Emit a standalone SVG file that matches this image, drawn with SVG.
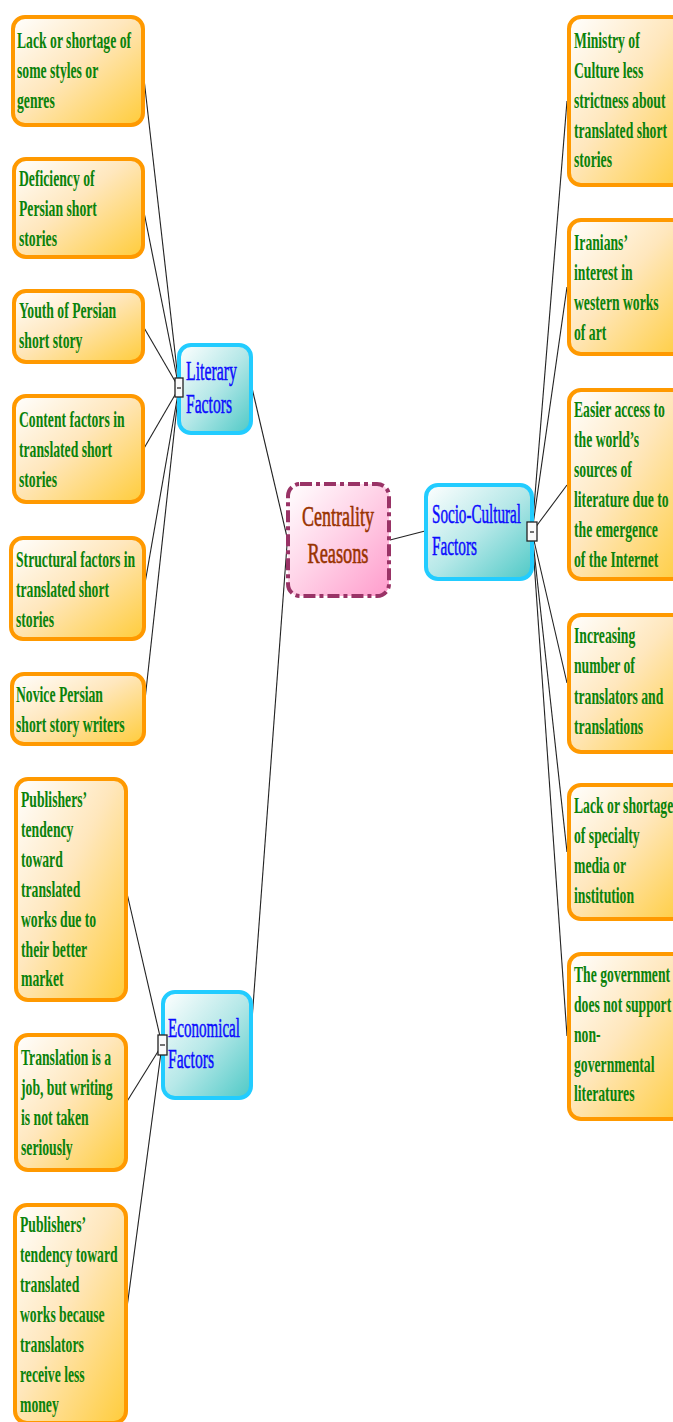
<svg xmlns="http://www.w3.org/2000/svg" width="673" height="1422" viewBox="0 0 673 1422">
<defs>
<linearGradient id="gOr" x1="0" y1="0" x2="1" y2="1">
<stop offset="0" stop-color="#ffffff"/>
<stop offset="0.45" stop-color="#ffe7bd"/>
<stop offset="1" stop-color="#ffcc3a"/>
</linearGradient>
<linearGradient id="gBl" x1="0" y1="0" x2="1" y2="1">
<stop offset="0" stop-color="#ffffff"/>
<stop offset="0.5" stop-color="#b6e8e8"/>
<stop offset="1" stop-color="#4ec9c6"/>
</linearGradient>
<linearGradient id="gPk" x1="0" y1="0" x2="1" y2="1">
<stop offset="0" stop-color="#ffffff"/>
<stop offset="0.5" stop-color="#ffd0e6"/>
<stop offset="1" stop-color="#ff9ccc"/>
</linearGradient>
</defs>
<style>
.leaf{fill:url(#gOr);stroke:#ff9900;stroke-width:4}
.mid{fill:url(#gBl);stroke:#22ccff;stroke-width:4}
.ctr{fill:url(#gPk);stroke:#993366;stroke-width:4;stroke-dasharray:12 4 4 4}
.lt{font-family:"Liberation Serif","Times New Roman",serif;font-weight:bold;font-size:23px;fill:#0a820a}
.bt{font-family:"Liberation Serif","Times New Roman",serif;font-size:28px;fill:#0c0cff;stroke:#0c0cff;stroke-width:0.5}
.ct{font-family:"Liberation Serif","Times New Roman",serif;font-size:30px;fill:#993300;stroke:#993300;stroke-width:0.6}
.cn{fill:none;stroke:#222;stroke-width:1.1}
.mk{fill:#fafafa;stroke:#222;stroke-width:1.3}
.mm{stroke:#444;stroke-width:1.5}
</style>
<g id="connectors">
<line class="cn" x1="287" y1="537" x2="252" y2="388"/>
<line class="cn" x1="287" y1="545" x2="250" y2="1047"/>
<line class="cn" x1="390" y1="540" x2="425" y2="531"/>
<line class="cn" x1="179" y1="388" x2="143" y2="70"/>
<line class="cn" x1="179" y1="388" x2="143" y2="207"/>
<line class="cn" x1="179" y1="388" x2="143" y2="326"/>
<line class="cn" x1="179" y1="388" x2="143" y2="450"/>
<line class="cn" x1="179" y1="388" x2="144" y2="589"/>
<line class="cn" x1="179" y1="388" x2="144" y2="709"/>
<line class="cn" x1="532" y1="532" x2="567" y2="101"/>
<line class="cn" x1="532" y1="532" x2="567" y2="287"/>
<line class="cn" x1="532" y1="532" x2="567" y2="485"/>
<line class="cn" x1="532" y1="532" x2="567" y2="683"/>
<line class="cn" x1="532" y1="532" x2="567" y2="852"/>
<line class="cn" x1="532" y1="532" x2="567" y2="1036"/>
<line class="cn" x1="162" y1="1045" x2="126" y2="889"/>
<line class="cn" x1="162" y1="1045" x2="126" y2="1103"/>
<line class="cn" x1="162" y1="1045" x2="126" y2="1315"/>
</g>
<g id="center">
<rect class="ctr" x="288" y="484" width="101" height="112" rx="12"/>
<text class="ct" text-anchor="middle"><tspan x="338" y="526" textLength="72" lengthAdjust="spacingAndGlyphs">Centrality</tspan><tspan x="338" y="563" textLength="61" lengthAdjust="spacingAndGlyphs">Reasons</tspan></text>
</g>
<g id="literary">
<rect class="mid" x="179" y="345" width="72" height="88" rx="12"/>
<text class="bt"><tspan x="186" y="380" textLength="51" lengthAdjust="spacingAndGlyphs">Literary</tspan><tspan x="186" y="413" textLength="46" lengthAdjust="spacingAndGlyphs">Factors</tspan></text>
<rect class="mk" x="175" y="378" width="8" height="19"/>
<line class="mm" x1="177" y1="388" x2="181" y2="388"/>
</g>
<g id="socio">
<rect class="mid" x="426" y="485" width="106" height="94" rx="12"/>
<text class="bt"><tspan x="432" y="523" textLength="89" lengthAdjust="spacingAndGlyphs">Socio-Cultural</tspan><tspan x="432" y="555" textLength="45" lengthAdjust="spacingAndGlyphs">Factors</tspan></text>
<rect class="mk" x="527" y="522" width="10" height="19"/>
<line class="mm" x1="530" y1="532" x2="534" y2="532"/>
</g>
<g id="economical">
<rect class="mid" x="163" y="992" width="88" height="106" rx="12"/>
<text class="bt"><tspan x="168" y="1037" textLength="72" lengthAdjust="spacingAndGlyphs">Economical</tspan><tspan x="168" y="1068" textLength="46" lengthAdjust="spacingAndGlyphs">Factors</tspan></text>
<rect class="mk" x="158" y="1035" width="9" height="20"/>
<line class="mm" x1="160" y1="1045" x2="165" y2="1045"/>
</g>
<g id="l1">
<rect class="leaf" x="13" y="17" width="130" height="108" rx="12"/>
<text class="lt" transform="translate(17 0) scale(0.595 1)"><tspan x="0" y="48">Lack or shortage of</tspan><tspan x="0" y="78">some styles or</tspan><tspan x="0" y="108">genres</tspan></text>
</g>
<g id="l2">
<rect class="leaf" x="14" y="159" width="129" height="98" rx="12"/>
<text class="lt" transform="translate(19 0) scale(0.595 1)"><tspan x="0" y="186">Deficiency of</tspan><tspan x="0" y="216">Persian short</tspan><tspan x="0" y="246">stories</tspan></text>
</g>
<g id="l3">
<rect class="leaf" x="14" y="291" width="129" height="71" rx="12"/>
<text class="lt" transform="translate(19 0) scale(0.595 1)"><tspan x="0" y="318">Youth of Persian</tspan><tspan x="0" y="348">short story</tspan></text>
</g>
<g id="l4">
<rect class="leaf" x="14" y="396" width="129" height="106" rx="12"/>
<text class="lt" transform="translate(19 0) scale(0.595 1)"><tspan x="0" y="427">Content factors in</tspan><tspan x="0" y="457">translated short</tspan><tspan x="0" y="487">stories</tspan></text>
</g>
<g id="l5">
<rect class="leaf" x="11" y="538" width="133" height="101" rx="12"/>
<text class="lt" transform="translate(16 0) scale(0.595 1)"><tspan x="0" y="567">Structural factors in</tspan><tspan x="0" y="597">translated short</tspan><tspan x="0" y="627">stories</tspan></text>
</g>
<g id="l6">
<rect class="leaf" x="12" y="674" width="132" height="70" rx="12"/>
<text class="lt" transform="translate(16 0) scale(0.595 1)"><tspan x="0" y="702">Novice Persian</tspan><tspan x="0" y="732">short story writers</tspan></text>
</g>
<g id="e1">
<rect class="leaf" x="16" y="779" width="110" height="221" rx="12"/>
<text class="lt" transform="translate(21 0) scale(0.595 1)"><tspan x="0" y="807">Publishers’</tspan><tspan x="0" y="837">tendency</tspan><tspan x="0" y="867">toward</tspan><tspan x="0" y="897">translated</tspan><tspan x="0" y="927">works due to</tspan><tspan x="0" y="957">their better</tspan><tspan x="0" y="986">market</tspan></text>
</g>
<g id="e2">
<rect class="leaf" x="16" y="1035" width="110" height="135" rx="12"/>
<text class="lt" transform="translate(21 0) scale(0.595 1)"><tspan x="0" y="1065">Translation is a</tspan><tspan x="0" y="1095">job, but writing</tspan><tspan x="0" y="1125">is not taken</tspan><tspan x="0" y="1155">seriously</tspan></text>
</g>
<g id="e3">
<rect class="leaf" x="15" y="1205" width="111" height="218" rx="12"/>
<text class="lt" transform="translate(20 0) scale(0.595 1)"><tspan x="0" y="1232">Publishers’</tspan><tspan x="0" y="1262">tendency toward</tspan><tspan x="0" y="1292">translated</tspan><tspan x="0" y="1322">works because</tspan><tspan x="0" y="1352">translators</tspan><tspan x="0" y="1382">receive less</tspan><tspan x="0" y="1412">money</tspan></text>
</g>
<g id="r1">
<rect class="leaf" x="569" y="17" width="120" height="168" rx="12"/>
<text class="lt" transform="translate(574 0) scale(0.595 1)"><tspan x="0" y="48">Ministry of</tspan><tspan x="0" y="78">Culture less</tspan><tspan x="0" y="108">strictness about</tspan><tspan x="0" y="138">translated short</tspan><tspan x="0" y="167">stories</tspan></text>
</g>
<g id="r2">
<rect class="leaf" x="569" y="220" width="120" height="134" rx="12"/>
<text class="lt" transform="translate(574 0) scale(0.595 1)"><tspan x="0" y="250">Iranians’</tspan><tspan x="0" y="280">interest in</tspan><tspan x="0" y="310">western works</tspan><tspan x="0" y="340">of art</tspan></text>
</g>
<g id="r3">
<rect class="leaf" x="569" y="390" width="120" height="189" rx="12"/>
<text class="lt" transform="translate(574 0) scale(0.595 1)"><tspan x="0" y="417">Easier access to</tspan><tspan x="0" y="447">the world’s</tspan><tspan x="0" y="477">sources of</tspan><tspan x="0" y="507">literature due to</tspan><tspan x="0" y="537">the emergence</tspan><tspan x="0" y="567">of the Internet</tspan></text>
</g>
<g id="r4">
<rect class="leaf" x="569" y="615" width="120" height="137" rx="12"/>
<text class="lt" transform="translate(574 0) scale(0.595 1)"><tspan x="0" y="643">Increasing</tspan><tspan x="0" y="673">number of</tspan><tspan x="0" y="704">translators and</tspan><tspan x="0" y="734">translations</tspan></text>
</g>
<g id="r5">
<rect class="leaf" x="569" y="785" width="120" height="134" rx="12"/>
<text class="lt" transform="translate(574 0) scale(0.595 1)"><tspan x="0" y="813">Lack or shortage</tspan><tspan x="0" y="843">of specialty</tspan><tspan x="0" y="873">media or</tspan><tspan x="0" y="903">institution</tspan></text>
</g>
<g id="r6">
<rect class="leaf" x="569" y="954" width="120" height="165" rx="12"/>
<text class="lt" transform="translate(574 0) scale(0.595 1)"><tspan x="0" y="982">The government</tspan><tspan x="0" y="1012">does not support</tspan><tspan x="0" y="1042">non-</tspan><tspan x="0" y="1072">governmental</tspan><tspan x="0" y="1101">literatures</tspan></text>
</g>
</svg>
